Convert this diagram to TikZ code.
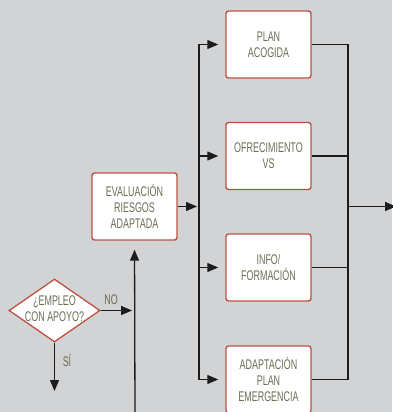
\documentclass[tikz,border=0pt]{standalone}
\usepackage{fontspec}
\setmainfont{Liberation Sans}[FakeStretch=0.64]
\usetikzlibrary{arrows.meta,shapes.geometric}
\definecolor{bg}{HTML}{D1D3D4}
\definecolor{txt}{HTML}{6A6E54}
\definecolor{brd}{HTML}{BC5244}
\definecolor{ln}{HTML}{1C1C1C}
\tikzset{
  box/.style={draw=brd, line width=1.4pt, fill=white, rounded corners=2.5pt,
    minimum width=85pt, minimum height=67pt, inner sep=0pt, align=center,
    font=\fontsize{14}{16}\selectfont, text=txt},
  dbox/.style={diamond, draw=brd, line width=1.3pt, fill=white,
    minimum width=91pt, minimum height=63pt, inner sep=0pt},
  lbl/.style={font=\fontsize{14}{16}\selectfont, text=txt, align=center, inner sep=0pt},
  conn/.style={draw=ln, line width=1.3pt},
  arr/.style={conn, -{Triangle[length=11pt,width=9pt]}},
}
\begin{document}
\begin{tikzpicture}[x=1pt,y=-1pt]
\fill[bg] (0,0) rectangle (392,412);
\useasboundingbox (0,0) rectangle (392,412);

\node[box] (plan) at (268.5,44.5) {PLAN\\ACOGIDA};
\node[box] (ofre) at (268.5,156) {OFRECIMIENTO\\VS};
\node[box] (info) at (268.5,267.5) {INFO/\\FORMACIÓN};
\node[box] (adap) at (268.5,379.5) {ADAPTACIÓN\\PLAN\\EMERGENCIA};
\node[box] (eval) at (134.5,206.5) {EVALUACIÓN\\RIESGOS\\ADAPTADA};
\node[dbox, label={[lbl, yshift=2pt]center:¿EMPLEO\\CON APOYO?}] (dia) at (54.5,310.5) {};

\coordinate (noend) at (132,310.5);
\coordinate (siend) at (54.5,391);
\coordinate (vbot) at (135,416);
\coordinate (split) at (199,206.5);
\coordinate (ltop) at (199,44.5);
\coordinate (lbot) at (199,379.5);
\coordinate (rtop) at (348,44.5);
\coordinate (rbot) at (348,379.5);
\coordinate (rmid) at (348,206.5);
\coordinate (out) at (396,206.5);

\draw[arr] (dia.east) -- (noend);
\node[lbl] (no) at (111,300) {NO};
\draw[arr] (dia.south) -- (siend);
\node[lbl] (si) at (67,360) {SÍ};
\draw[arr, shorten >=9pt] (vbot) -- (eval.south);
\draw[arr, shorten >=2pt] (eval.east) -- (split);

\draw[conn] (ltop) -- (lbot);
\draw[arr, shorten >=7pt] (ltop) -- (plan.west);
\draw[arr, shorten >=7pt] (199,156) -- (ofre.west);
\draw[arr, shorten >=7pt] (199,267.5) -- (info.west);
\draw[arr, shorten >=7pt] (lbot) -- (adap.west);

\draw[conn] (plan.east) -- (rtop);
\draw[conn] (ofre.east) -- (348,156);
\draw[conn] (info.east) -- (348,267.5);
\draw[conn] (adap.east) -- (rbot);
\draw[conn] (rtop) -- (rbot);
\draw[arr] (rmid) -- (out);
\end{tikzpicture}
\end{document}
